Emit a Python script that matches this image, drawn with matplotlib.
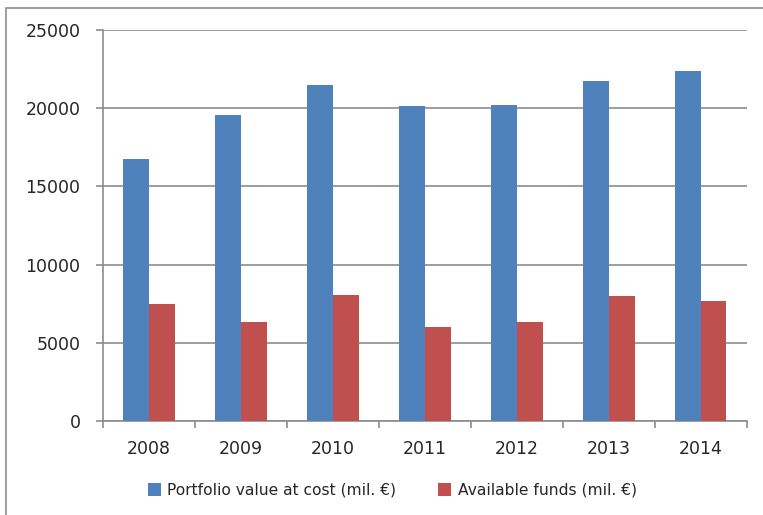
import numpy as np
import matplotlib.pyplot as plt
from matplotlib.patches import Rectangle

years = ['2008', '2009', '2010', '2011', '2012', '2013', '2014']
portfolio = [16750, 19550, 21500, 20120, 20220, 21720, 22400]
funds = [7480, 6310, 8080, 5990, 6310, 7990, 7670]

blue = '#4F81BD'
red = '#C0504D'
grid = '#8C8C8C'

fig = plt.figure(figsize=(7.63, 5.15), dpi=100)
ax = fig.add_axes([103 / 763, 94 / 515, 643.7 / 763, 391 / 515])

x = np.arange(len(years))
w = 0.28
ax.bar(x - w / 2, portfolio, w, color=blue, label='Portfolio value at cost (mil. €)', zorder=3)
ax.bar(x + w / 2, funds, w, color=red, label='Available funds (mil. €)', zorder=3)

ax.set_xlim(-0.5, len(years) - 0.5)
ax.set_ylim(0, 25000)
ax.set_yticks(range(0, 25001, 5000))
ax.yaxis.grid(True, color=grid, linewidth=1.2, zorder=0)

# category labels centred, tick marks between categories
ax.set_xticks(x)
ax.set_xticklabels(years)
ax.set_xticks(np.arange(-0.5, len(years), 1), minor=True)
ax.tick_params(axis='x', which='major', length=0, pad=14, labelsize=12.5, labelcolor='#262626')
ax.tick_params(axis='x', which='minor', length=5.2, width=1.2, color=grid, direction='out')
ax.tick_params(axis='y', length=5.2, width=1.2, color=grid, pad=11, labelsize=12.5, labelcolor='#262626')

for s in ['top', 'right']:
    ax.spines[s].set_visible(False)
for s in ['left', 'bottom']:
    ax.spines[s].set_color(grid)
    ax.spines[s].set_linewidth(1.2)

fig.legend(loc='center', bbox_to_anchor=(0.514, 0.048), ncol=2, frameon=False,
           fontsize=11.2, handlelength=0.85, handleheight=0.85, handletextpad=0.4,
           columnspacing=2.7, labelcolor='#262626')

# outer chart border
fig.patches.append(Rectangle((6 / 763, -0.1), 1.2, 1 - 8 / 515 + 0.1, transform=fig.transFigure,
                             fill=False, edgecolor=grid, linewidth=1.2))

fig.savefig('out.png', dpi=100)
